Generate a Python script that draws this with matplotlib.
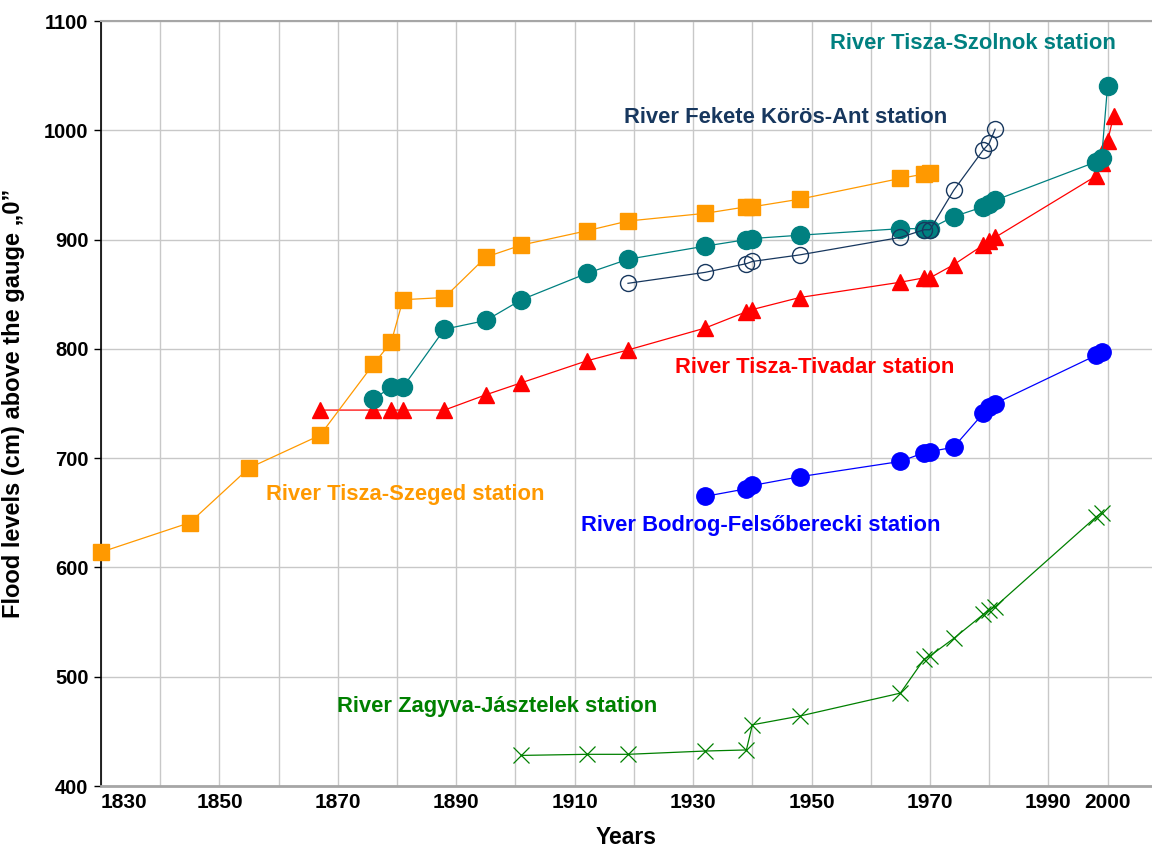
import matplotlib
matplotlib.use("Agg")
import matplotlib.pyplot as plt
import numpy as np

plt.rcParams['font.family'] = ['Liberation Sans', 'DejaVu Sans']
plt.rcParams['font.weight'] = 'bold'

# Tisza - Szeged
szeged_years = [1830, 1845, 1855, 1867, 1876, 1879, 1881, 1888, 1895, 1901, 1912, 1919,
                1932, 1939, 1940, 1948, 1965, 1969, 1970]
szeged_levels = [614, 641, 691, 721, 786, 806, 845, 847, 884, 895, 908, 917,
                 924, 930, 930, 937, 956, 960, 961]

# Tisza - Szolnok
szolnok_years = [1876, 1879, 1881, 1888, 1895, 1901, 1912, 1919, 1932, 1939, 1940, 1948,
                 1965, 1969, 1970, 1974, 1979, 1980, 1981, 1998, 1999, 2000]
szolnok_levels = [754, 765, 765, 818, 826, 845, 869, 882, 894, 900, 901, 904,
                  910, 910, 910, 921, 930, 933, 936, 971, 975, 1041]

# Fekete Koros - Ant
ant_years = [1919, 1932, 1939, 1940, 1948, 1965, 1969, 1970, 1974, 1979, 1980, 1981]
ant_levels = [860, 870, 878, 880, 886, 902, 909, 909, 945, 982, 988, 1001]

# Tisza - Tivadar
tivadar_years = [1867, 1876, 1879, 1881, 1888, 1895, 1901, 1912, 1919, 1932, 1939, 1940,
                 1948, 1965, 1969, 1970, 1974, 1979, 1980, 1981, 1998, 1999, 2000, 2001]
tivadar_levels = [744, 744, 744, 744, 744, 758, 769, 789, 799, 819, 834, 836,
                  847, 861, 865, 865, 877, 895, 899, 902, 958, 970, 990, 1013]

# Bodrog - Felsoberecki
bodrog_years = [1932, 1939, 1940, 1948, 1965, 1969, 1970, 1974, 1979, 1980, 1981, 1998, 1999]
bodrog_levels = [665, 672, 675, 683, 697, 705, 706, 710, 741, 747, 750, 794, 797]

# Zagyva - Jasztelek
zagyva_years = [1901, 1912, 1919, 1932, 1939, 1940, 1948, 1965, 1969, 1970, 1974,
                1979, 1980, 1981, 1998, 1999]
zagyva_levels = [428, 429, 429, 432, 433, 456, 464, 485, 516, 519, 535,
                 557, 561, 564, 646, 650]

xtick_years = [1830, 1850, 1870, 1890, 1910, 1930, 1950, 1970, 1990, 2000]

fig = plt.figure(figsize=(11.52, 8.48), dpi=100)
ax = fig.add_axes([0.0877, 0.0731, 0.9123, 0.9021])

ax.plot(zagyva_years, zagyva_levels, color='#008000', lw=0.9, marker='x',
        ms=11, mew=0.9, zorder=3)
ax.plot(bodrog_years, bodrog_levels, color='#0000FF', lw=0.9, marker='o',
        ms=12.5, mec='#0000FF', zorder=3)
ax.plot(tivadar_years, tivadar_levels, color='#FF0000', lw=0.9, marker='^',
        ms=12, mec='#FF0000', zorder=3)
ax.plot(szeged_years, szeged_levels, color='#FF9900', lw=0.9, marker='s',
        ms=12, mec='#FF9900', zorder=4, clip_on=False)
ax.plot(szolnok_years, szolnok_levels, color='#008080', lw=0.9, marker='o',
        ms=13, mec='#008080', zorder=4)
ax.plot(ant_years, ant_levels, color='#17375E', lw=0.9, marker='o',
        ms=11.5, mfc='none', mec='#17375E', mew=1.0, zorder=5)

ax.set_xlim(1830, 2007.5)
ax.set_ylim(400, 1100)
ax.set_yticks(np.arange(400, 1101, 100))
ax.set_xticks(xtick_years)
ax.set_xticks(np.arange(1840, 2001, 10), minor=True)
ax.tick_params(axis='x', which='both', length=0, pad=5, labelsize=15)
ax.tick_params(axis='y', length=5, width=1, pad=4, labelsize=14.5)
for lab in ax.get_xticklabels() + ax.get_yticklabels():
    lab.set_fontweight('bold')
ax.get_xticklabels()[0].set_horizontalalignment('left')

ax.grid(True, which='both', color='#C8C8C8', lw=1.0, zorder=0)
ax.set_axisbelow(True)

ax.spines['right'].set_visible(False)
ax.spines['left'].set_color('black')
ax.spines['left'].set_linewidth(1.2)
ax.spines['bottom'].set_color('#A6A6A6')
ax.spines['bottom'].set_linewidth(2)
ax.spines['top'].set_color('#A6A6A6')
ax.spines['top'].set_linewidth(1.5)

ax.set_xlabel('Years', fontsize=16.5, fontweight='bold', labelpad=10)
ax.set_ylabel('Flood levels (cm) above the gauge \u201e0\u201d', fontsize=17,
              fontweight='bold')
ax.yaxis.set_label_coords(-0.0723, 0.5)

lab_kw = dict(fontsize=15.8, fontweight='bold', ha='center', va='center')
ax.text(1977.2, 1079, 'River Tisza-Szolnok station', color='#008080', **lab_kw)
ax.text(1945.6, 1012, 'River Fekete Körös-Ant station', color='#17375E', **lab_kw)
ax.text(1950.6, 783, 'River Tisza-Tivadar station', color='#FF0000', **lab_kw)
ax.text(1881.3, 667, 'River Tisza-Szeged station', color='#FF9900', **lab_kw)
ax.text(1941.4, 638, 'River Bodrog-Felsőberecki station', color='#0000FF', **lab_kw)
ax.text(1896.9, 473, 'River Zagyva-Jásztelek station', color='#008000', **lab_kw)

fig.savefig('out.png', dpi=100)
